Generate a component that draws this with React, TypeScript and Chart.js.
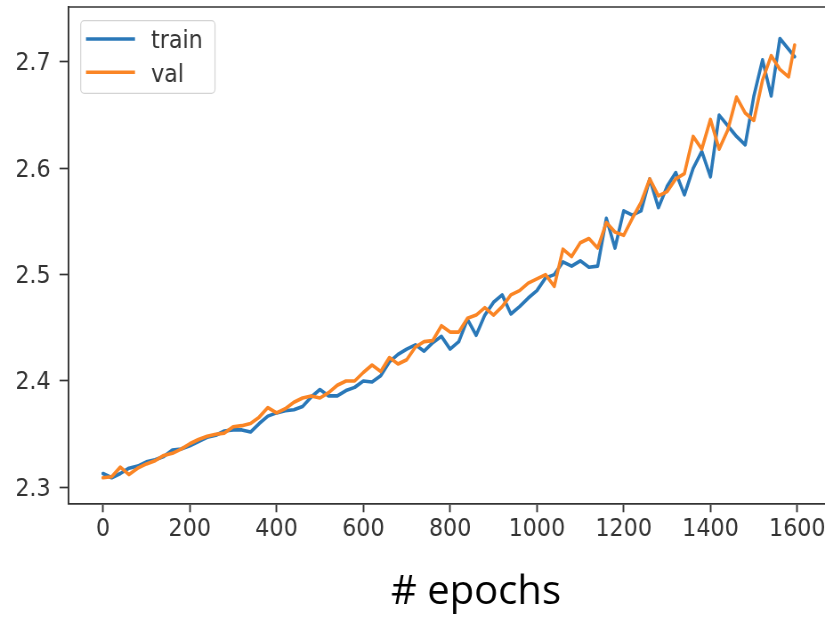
import React, { useEffect, useRef } from "react";
import { Chart, registerables } from "chart.js";

Chart.register(...registerables);

// Training history: loss value per epoch for the two splits.
const epochs = [
  0, 20, 40, 60, 80, 100, 120, 140, 160, 180, 200, 220, 240, 260, 280, 300, 320, 340, 360, 380,
  400, 420, 440, 460, 480, 500, 520, 540, 560, 580, 600, 620, 640, 660, 680, 700, 720, 740, 760, 780,
  800, 820, 840, 860, 880, 900, 920, 940, 960, 980, 1000, 1020, 1040, 1060, 1080, 1100, 1120, 1140, 1160, 1180,
  1200, 1220, 1240, 1260, 1280, 1300, 1320, 1340, 1360, 1380, 1400, 1420, 1440, 1460, 1480, 1500, 1520, 1540, 1560, 1580,
  1594,
];

const trainLoss = [
  2.313, 2.309, 2.313, 2.318, 2.320, 2.324, 2.326, 2.329, 2.335, 2.336, 2.339, 2.343, 2.347, 2.349, 2.353, 2.354, 2.354, 2.352, 2.360, 2.367,
  2.370, 2.372, 2.373, 2.376, 2.385, 2.392, 2.386, 2.386, 2.391, 2.394, 2.400, 2.399, 2.405, 2.418, 2.425, 2.430, 2.434, 2.428, 2.436, 2.442,
  2.430, 2.437, 2.458, 2.443, 2.462, 2.474, 2.481, 2.463, 2.470, 2.478, 2.485, 2.497, 2.500, 2.512, 2.508, 2.513, 2.507, 2.508, 2.553, 2.525,
  2.560, 2.556, 2.560, 2.590, 2.563, 2.583, 2.596, 2.575, 2.600, 2.616, 2.592, 2.650, 2.640, 2.630, 2.622, 2.668, 2.702, 2.668, 2.722, 2.712,
  2.705,
];

const valLoss = [
  2.309, 2.310, 2.319, 2.312, 2.318, 2.322, 2.325, 2.330, 2.332, 2.336, 2.341, 2.345, 2.348, 2.350, 2.351, 2.357, 2.358, 2.360, 2.366, 2.375,
  2.370, 2.374, 2.380, 2.384, 2.386, 2.384, 2.389, 2.396, 2.400, 2.400, 2.408, 2.415, 2.409, 2.422, 2.416, 2.420, 2.432, 2.437, 2.438, 2.452,
  2.446, 2.446, 2.459, 2.462, 2.469, 2.462, 2.470, 2.481, 2.485, 2.492, 2.496, 2.500, 2.489, 2.524, 2.517, 2.530, 2.534, 2.525, 2.549, 2.540,
  2.537, 2.553, 2.568, 2.590, 2.574, 2.578, 2.590, 2.595, 2.630, 2.618, 2.646, 2.618, 2.636, 2.667, 2.652, 2.645, 2.683, 2.706, 2.693, 2.686,
  2.716,
];

const seriesLabels = ["train", "val"];
const seriesColors = ["#2a78b8", "#fa8525"];
const xTickValues = [0, 200, 400, 600, 800, 1000, 1200, 1400, 1600];
const yTickValues = [2.3, 2.4, 2.5, 2.6, 2.7];
const xAxisTitle = "# epochs";

// The figure is laid out on a wider canvas and narrowed horizontally with CSS,
// which gives the condensed look of the tick and legend lettering.
const PAGE_W = 825;
const PAGE_H = 617;
const CANVAS_W = 927;
const SX = PAGE_W / CANVAS_W;

const INK = "#333333";
const LINE_W = 3.6;
const TICK_FONT = { family: "'DejaVu Sans', sans-serif", size: 25 };

const framePlugin = {
  id: "topSpine",
  afterDraw(chart: any) {
    const { ctx, chartArea } = chart;
    ctx.save();
    ctx.strokeStyle = INK;
    ctx.lineWidth = 1.7;
    ctx.beginPath();
    ctx.moveTo(chartArea.left, chartArea.top);
    ctx.lineTo(chartArea.right, chartArea.top);
    ctx.stroke();
    ctx.restore();
  },
};

const legendPlugin = {
  id: "innerLegend",
  afterDatasetsDraw(chart: any) {
    const { ctx } = chart;
    const left = 80.7 / SX;
    const right = 215 / SX;
    const top = 20.7;
    const bottom = 93.3;
    ctx.save();
    ctx.beginPath();
    ctx.roundRect(left, top, right - left, bottom - top, 4);
    ctx.fillStyle = "rgba(255,255,255,0.85)";
    ctx.fill();
    ctx.strokeStyle = "#d4d4d4";
    ctx.lineWidth = 1.2;
    ctx.stroke();

    const rowY = [39, 72.3];
    chart.data.datasets.forEach((ds: any, i: number) => {
      ctx.strokeStyle = ds.borderColor;
      ctx.lineWidth = LINE_W;
      ctx.beginPath();
      ctx.moveTo(86 / SX, rowY[i]);
      ctx.lineTo(135 / SX, rowY[i]);
      ctx.stroke();
      ctx.fillStyle = INK;
      ctx.font = `${TICK_FONT.size}px ${TICK_FONT.family}`;
      ctx.textAlign = "left";
      ctx.textBaseline = "alphabetic";
      ctx.fillText(ds.label, 151 / SX, rowY[i] + 9.3);
    });
    ctx.restore();
  },
};

const captionPlugin = {
  id: "caption",
  afterDraw(chart: any) {
    const { ctx } = chart;
    ctx.save();
    // caption keeps its natural proportions
    ctx.translate(476 / SX, 604);
    ctx.scale(1 / SX, 1);
    ctx.fillStyle = "#000000";
    ctx.font = "40px 'Open Sans', sans-serif";
    ctx.textAlign = "center";
    ctx.textBaseline = "alphabetic";
    ctx.fillText(xAxisTitle, 0, 0);
    ctx.restore();
  },
};

export default function App() {
  const canvasRef = useRef<HTMLCanvasElement | null>(null);

  useEffect(() => {
    const canvas = canvasRef.current;
    if (!canvas) return;
    const series = [trainLoss, valLoss];
    const chart = new Chart(canvas, {
      type: "line",
      data: {
        datasets: series.map((values, i) => ({
          label: seriesLabels[i],
          data: epochs.map((x, j) => ({ x, y: values[j] })),
          borderColor: seriesColors[i],
          backgroundColor: seriesColors[i],
          borderWidth: LINE_W,
          pointRadius: 0,
          tension: 0,
          fill: false,
          borderJoinStyle: "round" as const,
          borderCapStyle: "round" as const,
          order: series.length - i,
        })),
      },
      options: {
        animation: false,
        responsive: false,
        devicePixelRatio: 1,
        events: [],
        layout: { padding: { top: 7, left: 0, right: 0, bottom: 0 } },
        plugins: {
          legend: { display: false },
          tooltip: { enabled: false },
          title: { display: false },
        },
        scales: {
          x: {
            type: "linear",
            min: -80,
            max: 1664,
            afterBuildTicks: (scale: any) => {
              scale.ticks = xTickValues.map((value) => ({ value }));
            },
            afterFit: (scale: any) => {
              scale.height = PAGE_H - 503.5;
              scale.paddingLeft = 0;
              scale.paddingRight = 0;
            },
            grid: {
              display: true,
              drawOnChartArea: false,
              drawTicks: true,
              tickLength: 8.75,
              tickWidth: 1.9,
              tickColor: INK,
            },
            border: { display: true, color: INK, width: 1.7 },
            ticks: {
              color: INK,
              font: TICK_FONT,
              padding: 2,
              maxRotation: 0,
              autoSkip: false,
              callback: (v: any) => String(v),
            },
          },
          y: {
            type: "linear",
            min: 2.2848,
            max: 2.7517,
            afterBuildTicks: (scale: any) => {
              scale.ticks = yTickValues.map((value) => ({ value }));
            },
            afterFit: (scale: any) => {
              scale.width = 76.7;
              scale.paddingTop = 0;
              scale.paddingBottom = 0;
            },
            grid: {
              display: true,
              drawOnChartArea: false,
              drawTicks: true,
              tickLength: 9.8,
              tickWidth: 1.7,
              tickColor: INK,
            },
            border: { display: true, color: INK, width: 1.9 },
            ticks: {
              color: INK,
              font: TICK_FONT,
              padding: 10,
              labelOffset: 2,
              autoSkip: false,
              callback: (v: any) => Number(v).toFixed(1),
            },
          },
        },
      },
      plugins: [framePlugin, legendPlugin, captionPlugin],
    });
    return () => chart.destroy();
  }, []);

  return (
    <div
      style={{
        position: "fixed",
        left: 0,
        top: 0,
        width: PAGE_W,
        height: PAGE_H,
        overflow: "hidden",
        background: "#ffffff",
      }}
    >
      <div
        style={{
          width: CANVAS_W,
          height: PAGE_H,
          transform: `scaleX(${SX})`,
          transformOrigin: "0 0",
        }}
      >
        <canvas
          ref={canvasRef}
          width={CANVAS_W}
          height={PAGE_H}
          style={{ display: "block", width: CANVAS_W, height: PAGE_H }}
        />
      </div>
    </div>
  );
}
